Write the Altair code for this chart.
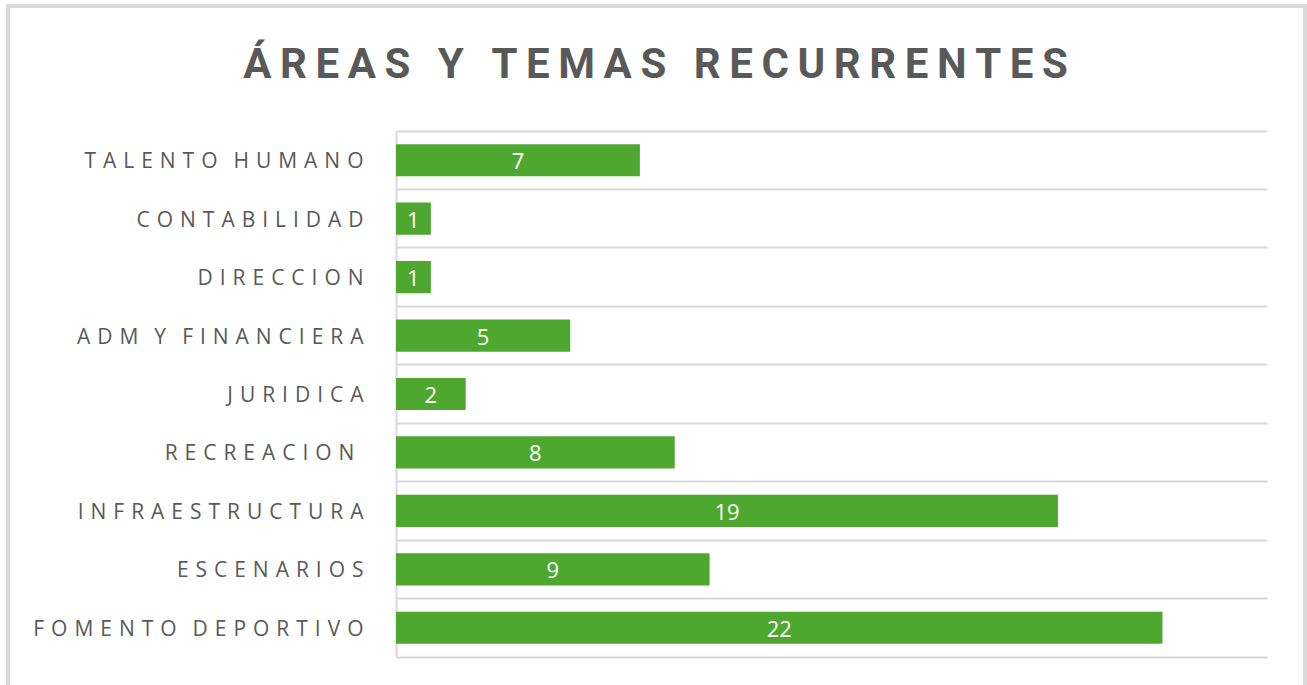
import altair as alt
import pandas as pd

categories = ["TALENTO HUMANO", "CONTABILIDAD", "DIRECCION", "ADM Y FINANCIERA",
              "JURIDICA", "RECREACION ", "INFRAESTRUCTURA", "ESCENARIOS", "FOMENTO DEPORTIVO"]
values = [7, 1, 1, 5, 2, 8, 19, 9, 22]
title_text = "ÁREAS Y TEMAS RECURRENTES"

df = pd.DataFrame({"area": categories, "n": values})

GREY = "#D9D9D9"
TXT = "#595959"
THIN = "\u2009"
HAIR = "\u200a"
ZW = "\u200b"
GAP = THIN + THIN

label_expr = ("join(split(join(split(datum.label, ' '), '" + HAIR + "'), ''), '"
              + GAP + "') + '" + ZW + "'")

y_enc = alt.Y("area:N", sort=categories, title=None,
              scale=alt.Scale(paddingInner=0, paddingOuter=0),
              axis=alt.Axis(grid=True, bandPosition=0, gridColor=GREY, gridWidth=2,
                            domain=True, domainColor=GREY, domainWidth=2, ticks=False,
                            labelPadding=33, labelFont="Open Sans", labelFontSize=21,
                            labelOffset=2, labelColor=TXT, labelLimit=400,
                            labelExpr=label_expr))
x_enc = alt.X("n:Q", title=None, scale=alt.Scale(domain=[0, 25], nice=False),
              axis=alt.Axis(grid=False, labels=False, ticks=False, domain=True,
                            domainColor=GREY, domainWidth=2))

bars = alt.Chart(df).mark_bar(color="#4EA72E", height={"band": 0.55}).encode(y=y_enc, x=x_enc)
labels = alt.Chart(df).transform_calculate(mid="datum.n / 2").mark_text(
    color="white", font="Open Sans", fontSize=22, baseline="middle", align="center", dy=2
).encode(y=alt.Y("area:N", sort=categories), x=alt.X("mid:Q"), text="n:Q")

border = alt.Chart(df).mark_rect(fill=None, stroke=GREY, strokeWidth=3).encode(
    x=alt.value(-388), x2=alt.value(909), y=alt.value(-125), y2=alt.value(600))

chart = alt.layer(border, bars, labels).properties(
    width=871, height=526,
    title=alt.Title(THIN.join(title_text), font="Roboto", fontSize=42, fontWeight="bold",
                    color=TXT, anchor="middle", dx=-176, baseline="alphabetic", offset=-115),
    padding={"left": 396, "top": 131, "right": 40, "bottom": 28},
    autosize=alt.AutoSizeParams(type="none"),
).configure_view(stroke=None)

chart.save("out.html", embed_options={"renderer": "svg", "actions": False})
